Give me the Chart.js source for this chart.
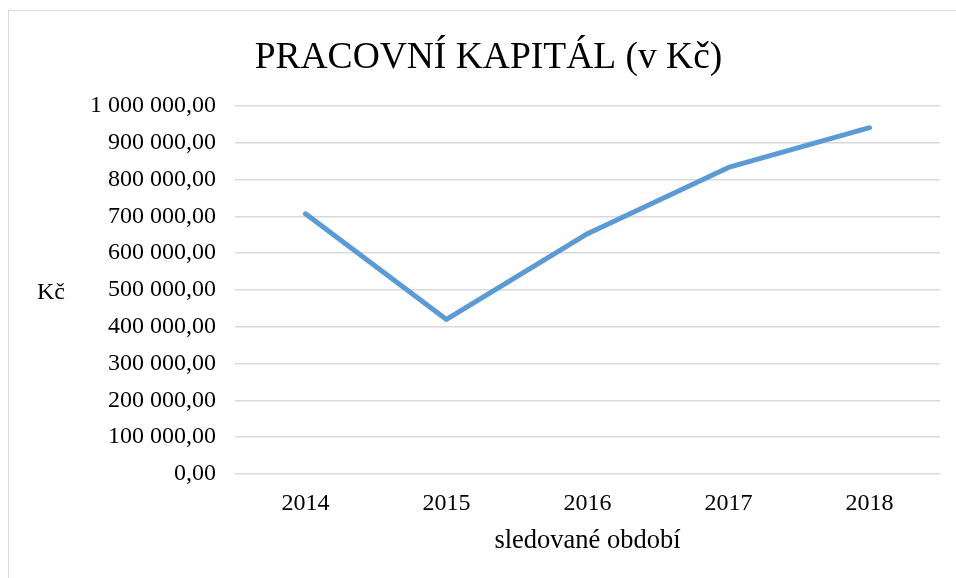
<!DOCTYPE html>
<html>
<head>
<meta charset="utf-8">
<script src="https://cdn.jsdelivr.net/npm/chart.js@4"></script>
<style>
  body { margin: 0; background: #fff; }
  #wrap { position: relative; width: 956px; height: 578px; overflow: hidden; }
  #frame { position: absolute; left: 8px; top: 10px; width: 1000px; height: 1000px; border: 1.5px solid #d9d9d9; }
  canvas { position: absolute; left: 0; top: 0; }
</style>
</head>
<body>
<div id="wrap">
  <div id="frame"></div>
  <canvas id="chart" width="956" height="578"></canvas>
</div>
<script>
// data
var years = ['2014', '2015', '2016', '2017', '2018'];
var workingCapital = [707000, 420000, 653000, 833000, 941000];
var yTicks = [0, 100000, 200000, 300000, 400000, 500000, 600000, 700000, 800000, 900000, 1000000];

var serif = "'Liberation Serif', 'Times New Roman', serif";

function formatCzk(v) {
    var parts = v.toFixed(2).split('.');
    var intPart = parts[0].replace(/\B(?=(\d{3})+(?!\d))/g, ' ');
    return intPart + ',' + parts[1];
}

// horizontal "Kč" y-axis title (Chart.js rotates its own axis titles)
var yTitlePlugin = {
    id: 'yTitle',
    afterDraw: function(chart) {
        var ctx = chart.ctx;
        var area = chart.chartArea;
        ctx.save();
        ctx.font = '24px ' + serif;
        ctx.fillStyle = '#000';
        ctx.textAlign = 'left';
        ctx.textBaseline = 'middle';
        ctx.fillText('Kč', 37, (area.top + area.bottom) / 2 + 3);
        ctx.restore();
    }
};

new Chart(document.getElementById('chart'), {
    type: 'line',
    data: {
        labels: years,
        datasets: [{
            label: 'Pracovní kapitál',
            data: workingCapital,
            borderColor: '#5b9bd5',
            backgroundColor: '#5b9bd5',
            borderWidth: 5,
            borderJoinStyle: 'round',
            borderCapStyle: 'round',
            pointRadius: 0,
            tension: 0
        }]
    },
    options: {
        responsive: false,
        animation: false,
        layout: { padding: { left: 37, right: 16, top: 0, bottom: 0 } },
        plugins: {
            legend: { display: false },
            tooltip: { enabled: false },
            title: {
                display: true,
                text: 'PRACOVNÍ KAPITÁL (v Kč)',
                color: '#000',
                font: { family: serif, size: 37.5, weight: 'normal' },
                padding: { top: 36, bottom: 25 }
            }
        },
        scales: {
            x: {
                offset: true,
                afterFit: function(scale) { scale.height = 578 - 474; },
                grid: { display: false, drawTicks: false },
                border: { display: false },
                ticks: { color: '#000', font: { family: serif, size: 24 }, padding: 15 },
                title: {
                    display: true,
                    text: 'sledované období',
                    color: '#000',
                    font: { family: serif, size: 26.5 },
                    padding: { top: 0, bottom: 21 }
                }
            },
            y: {
                min: 0,
                max: 1000000,
                afterFit: function(scale) { scale.width = 235 - 37; },
                afterBuildTicks: function(scale) {
                    scale.ticks = yTicks.map(function(v) { return { value: v }; });
                },
                grid: { color: '#d9d9d9', lineWidth: 1.5, drawTicks: false },
                border: { display: false },
                ticks: {
                    color: '#000',
                    font: { family: serif, size: 24 },
                    padding: 19,
                    callback: function(v) { return formatCzk(v); }
                }
            }
        }
    },
    plugins: [yTitlePlugin]
});
</script>
</body>
</html>
